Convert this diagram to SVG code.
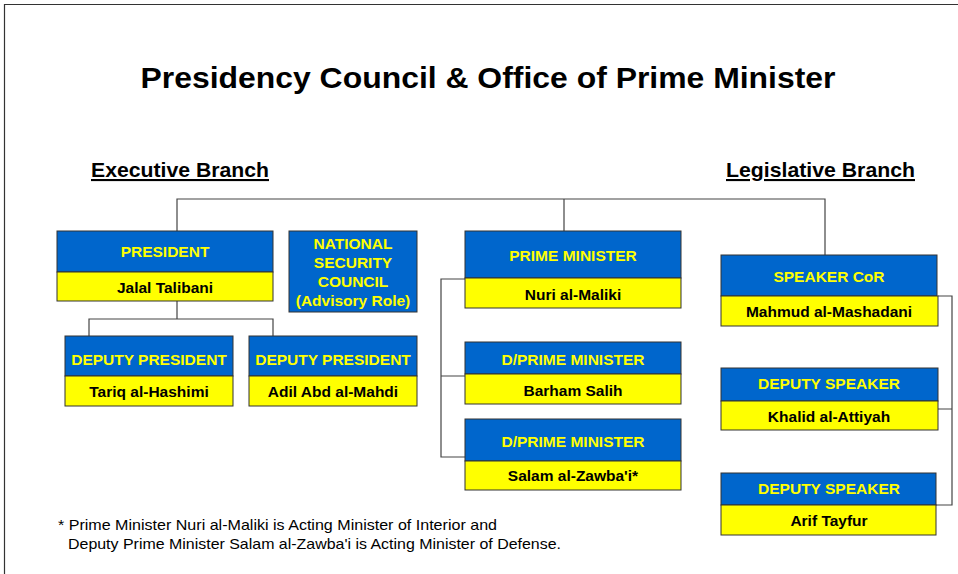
<svg xmlns="http://www.w3.org/2000/svg" width="958" height="574" viewBox="0 0 958 574">
<style>
text{font-family:"Liberation Sans",Arial,sans-serif}
.b{fill:#0066CC;stroke:#333;stroke-width:1}
.y{fill:#FFFF00;stroke:#333;stroke-width:1}
.t{fill:#FFFF00;font-weight:bold;font-size:15.5px;text-anchor:middle}
.n{fill:#000;font-weight:bold;font-size:15.5px;text-anchor:middle}
.c{fill:none;stroke:#444;stroke-width:1.2}
.h{font-weight:bold;font-size:21px;text-decoration:underline;fill:#000}
</style>
<rect width="958" height="574" fill="#fff"/>
<path d="M4.5 574V4.5H958" fill="none" stroke="#333" stroke-width="1.2"/>
<text x="488" y="88" font-size="30" font-weight="bold" text-anchor="middle" textLength="695" lengthAdjust="spacingAndGlyphs">Presidency Council &amp; Office of Prime Minister</text>
<text class="h" x="91" y="177" textLength="178" lengthAdjust="spacingAndGlyphs">Executive Branch</text>
<text class="h" x="726" y="177" textLength="189" lengthAdjust="spacingAndGlyphs">Legislative Branch</text>
<g id="connectors">
<path class="c" d="M177 231V199H825V255M564 199V231"/>
<path class="c" d="M177 301V319M89 336V319H273V336"/>
<path class="c" d="M465 279H441V457H465M441 376H465"/>
<path class="c" d="M938 296H952V505H936M938 409H952"/>
</g>
<g id="president">
<rect class="b" x="57" y="231" width="216" height="41"/>
<rect class="y" x="57" y="272" width="216" height="29"/>
<text class="t" x="165" y="257">PRESIDENT</text>
<text class="n" x="165" y="293">Jalal Talibani</text>
</g>
<g id="nsc">
<rect class="b" x="289" y="231" width="128" height="81"/>
<text class="t" x="353" y="249">NATIONAL</text>
<text class="t" x="353" y="268">SECURITY</text>
<text class="t" x="353" y="287">COUNCIL</text>
<text class="t" x="353" y="306">(Advisory Role)</text>
</g>
<g id="deputy-president-1">
<rect class="b" x="65" y="336" width="168" height="40"/>
<rect class="y" x="65" y="376" width="168" height="30"/>
<text class="t" x="149" y="365">DEPUTY PRESIDENT</text>
<text class="n" x="149" y="397">Tariq al-Hashimi</text>
</g>
<g id="deputy-president-2">
<rect class="b" x="249" y="336" width="168" height="40"/>
<rect class="y" x="249" y="376" width="168" height="30"/>
<text class="t" x="333" y="365">DEPUTY PRESIDENT</text>
<text class="n" x="333" y="397">Adil Abd al-Mahdi</text>
</g>
<g id="prime-minister">
<rect class="b" x="465" y="231" width="216" height="47"/>
<rect class="y" x="465" y="278" width="216" height="30"/>
<text class="t" x="573" y="261">PRIME MINISTER</text>
<text class="n" x="573" y="300">Nuri al-Maliki</text>
</g>
<g id="dpm-1">
<rect class="b" x="465" y="342" width="216" height="32"/>
<rect class="y" x="465" y="374" width="216" height="30"/>
<text class="t" x="573" y="365">D/PRIME MINISTER</text>
<text class="n" x="573" y="396">Barham Salih</text>
</g>
<g id="dpm-2">
<rect class="b" x="465" y="419" width="216" height="42"/>
<rect class="y" x="465" y="461" width="216" height="29"/>
<text class="t" x="573" y="447">D/PRIME MINISTER</text>
<text class="n" x="573" y="481">Salam al-Zawba'i*</text>
</g>
<g id="speaker">
<rect class="b" x="721" y="255" width="216" height="41"/>
<rect class="y" x="721" y="296" width="217" height="30"/>
<text class="t" x="829" y="282">SPEAKER CoR</text>
<text class="n" x="829" y="317">Mahmud al-Mashadani</text>
</g>
<g id="deputy-speaker-1">
<rect class="b" x="721" y="368" width="217" height="33"/>
<rect class="y" x="721" y="401" width="217" height="29"/>
<text class="t" x="829" y="389">DEPUTY SPEAKER</text>
<text class="n" x="829" y="422">Khalid al-Attiyah</text>
</g>
<g id="deputy-speaker-2">
<rect class="b" x="721" y="473" width="215" height="32"/>
<rect class="y" x="721" y="505" width="215" height="30"/>
<text class="t" x="829" y="494">DEPUTY SPEAKER</text>
<text class="n" x="829" y="526">Arif Tayfur</text>
</g>
<g id="footnote" font-size="15" fill="#000">
<text x="58" y="530" textLength="439" lengthAdjust="spacingAndGlyphs">* Prime Minister Nuri al-Maliki is Acting Minister of Interior and</text>
<text x="68" y="549" textLength="493" lengthAdjust="spacingAndGlyphs">Deputy Prime Minister Salam al-Zawba'i is Acting Minister of Defense.</text>
</g>
</svg>
